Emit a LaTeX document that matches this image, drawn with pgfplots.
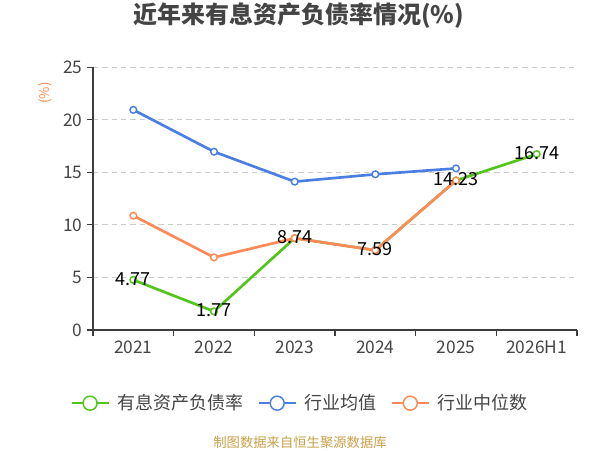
\documentclass[border=0pt]{standalone}
\usepackage{fontspec}
\setmainfont{Noto Sans CJK SC}
\usepackage{pgfplots}
\pgfplotsset{compat=1.18}
\definecolor{cgreen}{RGB}{82,196,26}
\definecolor{cblue}{RGB}{74,126,224}
\definecolor{corange}{RGB}{255,138,87}
\definecolor{cgold}{RGB}{201,160,72}
\definecolor{ctext}{RGB}{68,68,68}
\definecolor{caxis}{RGB}{60,60,60}
\definecolor{cgrid}{RGB}{204,204,204}
\pgfplotstableread{
x y lbl
0 4.77 4.77
1 1.77 1.77
2 8.74 8.74
3 7.59 7.59
4 14.23 14.23
5 16.74 16.74
}\greendata
\begin{document}
\begin{tikzpicture}
\path[use as bounding box] (0,0) rectangle (450pt,337.5pt);
\node[font=\fontsize{18}{20}\selectfont\bfseries, text=ctext] at (224pt,325.5pt) {近年来有息资产负债率情况(\%)};
\node[font=\fontsize{10}{12}\selectfont, text=corange, rotate=90] at (33.75pt,267.75pt) {(\%)};
\node[font=\fontsize{10}{12}\selectfont, text=cgold] at (225pt,6pt) {制图数据来自恒生聚源数据库};
\begin{axis}[
  at={(69.75pt,90pt)}, anchor=south west, scale only axis,
  width=363pt, height=197pt,
  xmin=-0.5, xmax=5.5, ymin=0, ymax=25,
  xtick={-0.5,0.5,...,5.5}, x tick label as interval,
  xticklabels={2021,2022,2023,2024,2025,2026H1},
  ytick={0,5,...,25},
  /pgf/number format/assume math mode=true,
  axis x line*=bottom, axis y line*=left,
  axis line style={-, draw=caxis, line width=0.8pt},
  tick align=outside, major tick length=4.5pt,
  tick style={draw=caxis, line width=0.8pt},
  ymajorgrids, grid style={cgrid, line width=0.75pt, dash pattern=on 4pt off 3pt},
  ticklabel style={font=\fontsize{13}{15}\selectfont, text=ctext},
  clip=false,
  legend style={at={(0.4287,-0.2786)}, anchor=center, draw=none, fill=none,
    font=\fontsize{13.5}{16}\selectfont, text=ctext,
    /tikz/every odd column/.append style={column sep=4pt},
    /tikz/every even column/.append style={column sep=9pt}},
  legend columns=3,
  legend image code/.code={
    \draw[#1, mark=none, line width=1.1pt] (0pt,0pt) -- (27.75pt,0pt);
    \draw[#1, fill=white, line width=1.1pt] (13.9pt,0pt) circle (5.25pt);
  },
]
\addplot[cgreen, line width=2pt, mark=*, mark size=2.5pt, mark options={fill=white, line width=1.1pt}]
  table[x=x, y=y] {\greendata};
\addlegendentry{有息资产负债率}
\addplot[cblue, line width=2pt, mark=*, mark size=2.5pt, mark options={fill=white, line width=1.1pt}]
  coordinates {(0,20.95)(1,16.97)(2,14.12)(3,14.82)(4,15.38)};
\addlegendentry{行业均值}
\addplot[corange, line width=2pt, mark=*, mark size=2.5pt, mark options={fill=white, line width=1.1pt}]
  coordinates {(0,10.88)(1,6.91)(2,8.74)(3,7.59)(4,14.23)};
\addlegendentry{行业中位数}
\addplot[draw=none, mark=none, forget plot, nodes near coords, point meta=explicit symbolic,
  every node near coord/.append style={anchor=center, yshift=0.8pt, font=\fontsize{13.5}{16}\selectfont, text=black}]
  table[x=x, y=y, meta=lbl] {\greendata};
\end{axis}
\end{tikzpicture}
\end{document}
